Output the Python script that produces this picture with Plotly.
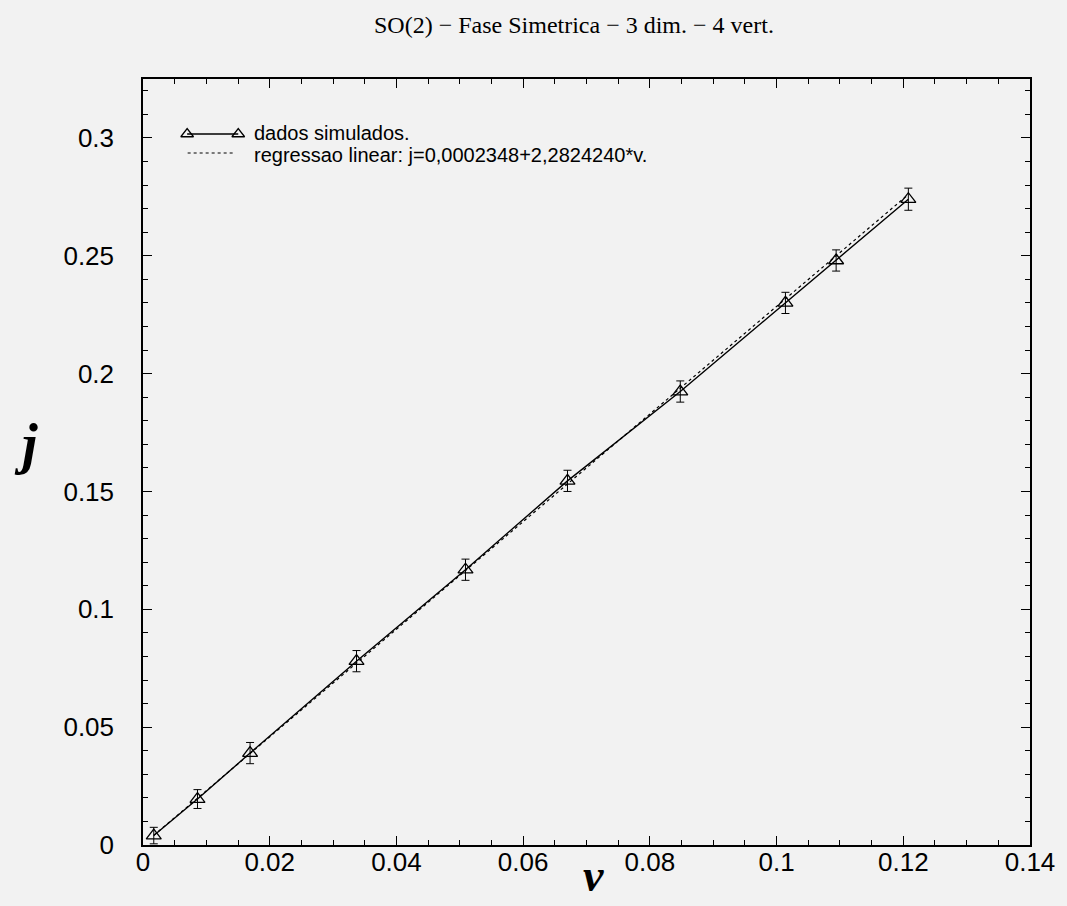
import plotly.graph_objects as go

# ---- data ----
v_vals = [0.0017, 0.0086, 0.0169, 0.0337, 0.0509, 0.0670, 0.0848, 0.1014, 0.1094, 0.1208]
j_vals = [0.0040, 0.0195, 0.0390, 0.0780, 0.1168, 0.1545, 0.1924, 0.2300, 0.2480, 0.2740]
j_err = [0.0035, 0.0040, 0.0045, 0.0045, 0.0045, 0.0045, 0.0045, 0.0045, 0.0045, 0.0047]

# regression line endpoints: j = 0.0002348 + 2.2824240*v
reg_v = [0.0017, 0.1208]
reg_j = [0.0041, 0.2760]

x_range = [0, 0.14]
y_range = [0, 0.325]
x_ticks = [0, 0.02, 0.04, 0.06, 0.08, 0.1, 0.12, 0.14]
x_ticktext = ["0", "0.02", "0.04", "0.06", "0.08", "0.1", "0.12", "0.14"]
y_ticks = [0, 0.05, 0.1, 0.15, 0.2, 0.25, 0.3]
y_ticktext = ["0", "0.05", "0.1", "0.15", "0.2", "0.25", "0.3"]

title_text = "SO(2) \u2212 Fase Simetrica \u2212 3 dim. \u2212 4 vert."
legend_labels = ["dados simulados.", "regressao linear: j=0,0002348+2,2824240*v."]

W, H = 1067, 906
ML, MR, MT, MB = 143, 30, 79, 61
PW = W - ML - MR
PH = H - MT - MB


def px_x(px):
    return (px - ML) / PW


def px_y(py):
    return (H - MB - py) / PH


BG = "#f2f2f2"
SANS = "Liberation Sans, Arial, sans-serif"
SERIF = "Liberation Serif, Times New Roman, serif"

fig = go.Figure()

fig.add_trace(go.Scatter(
    x=reg_v, y=reg_j, mode="lines",
    line=dict(color="black", width=1.2, dash="dot"),
    showlegend=False, hoverinfo="skip"))

fig.add_trace(go.Scatter(
    x=v_vals, y=j_vals, mode="lines+markers",
    line=dict(color="black", width=1.4),
    marker=dict(symbol="triangle-up-open", size=13, color="black",
                line=dict(width=1.3, color="black")),
    error_y=dict(type="data", array=j_err, visible=True,
                 color="black", thickness=1, width=4),
    showlegend=False))

# legend samples drawn on an overlay unit axis
leg1_x = [px_x(187.5), px_x(239)]
leg1_y = [px_y(134), px_y(134)]
leg2_x = [px_x(188), px_x(236)]
leg2_y = [px_y(153), px_y(153)]

fig.add_trace(go.Scatter(
    x=leg1_x, y=leg1_y, xaxis="x2", yaxis="y2", mode="lines+markers",
    line=dict(color="black", width=1.3),
    marker=dict(symbol="triangle-up-open", size=11, color="black",
                line=dict(width=1.3, color="black")),
    showlegend=False, hoverinfo="skip"))
fig.add_trace(go.Scatter(
    x=leg2_x, y=leg2_y, xaxis="x2", yaxis="y2", mode="lines",
    line=dict(color="black", width=1.2, dash="dot"),
    showlegend=False, hoverinfo="skip"))

annotations = [
    dict(text=legend_labels[0], x=px_x(253), y=px_y(133), xref="paper", yref="paper",
         xanchor="left", yanchor="middle", showarrow=False,
         font=dict(family=SANS, size=20, color="black")),
    dict(text=legend_labels[1], x=px_x(253), y=px_y(155), xref="paper", yref="paper",
         xanchor="left", yanchor="middle", showarrow=False,
         font=dict(family=SANS, size=20, color="black")),
    dict(text=title_text, x=px_x(577), y=px_y(25), xref="paper", yref="paper",
         xanchor="center", yanchor="middle", showarrow=False,
         font=dict(family=SERIF, size=24, color="black")),
    dict(text="<b><i>j</i></b>", x=px_x(25), y=px_y(444), xref="paper", yref="paper",
         xanchor="center", yanchor="middle", showarrow=False,
         font=dict(family=SERIF, size=56, color="black")),
    dict(text="<b><i>v</i></b>", x=px_x(597), y=px_y(875), xref="paper", yref="paper",
         xanchor="center", yanchor="middle", showarrow=False,
         font=dict(family=SERIF, size=46, color="black")),
]

axis_common = dict(
    showline=True, linecolor="black", linewidth=1.5, mirror="allticks",
    ticks="inside", ticklen=9, tickwidth=1.2, tickcolor="black",
    showgrid=False, zeroline=False,
    tickfont=dict(family=SANS, size=26, color="black"),
)

fig.update_layout(
    width=W, height=H,
    margin=dict(l=ML, r=MR, t=MT, b=MB),
    paper_bgcolor=BG, plot_bgcolor=BG,
    showlegend=False,
    xaxis=dict(range=x_range, tickmode="array", tickvals=x_ticks, ticktext=x_ticktext,
               minor=dict(dtick=0.005, tick0=0, ticks="inside", ticklen=5,
                          tickwidth=1, tickcolor="black"),
               ticklabelstandoff=-7,
               **axis_common),
    yaxis=dict(range=y_range, tickmode="array", tickvals=y_ticks, ticktext=y_ticktext,
               minor=dict(dtick=0.01, tick0=0, ticks="inside", ticklen=5,
                          tickwidth=1, tickcolor="black"),
               ticklabelstandoff=22,
               **axis_common),
    xaxis2=dict(range=[0, 1], overlaying="x", visible=False, fixedrange=True),
    yaxis2=dict(range=[0, 1], overlaying="y", visible=False, fixedrange=True),
    annotations=annotations,
)

fig.write_html("out.html")
